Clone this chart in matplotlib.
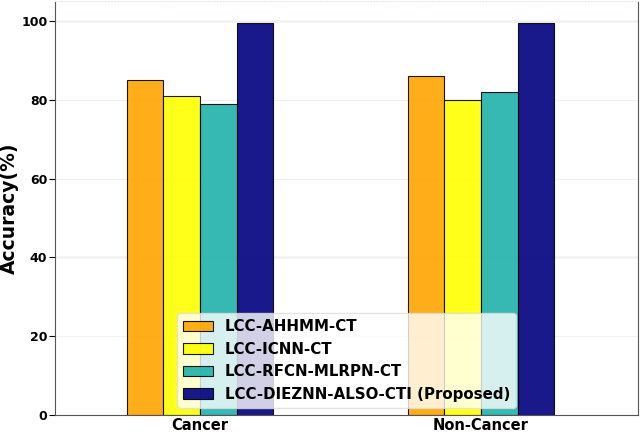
import matplotlib
matplotlib.use("Agg")
import matplotlib.pyplot as plt
import numpy as np

groups = ['Cancer', 'Non-Cancer']
methods = ['LCC-AHHMM-CT', 'LCC-ICNN-CT', 'LCC-RFCN-MLRPN-CT',
           'LCC-DIEZNN-ALSO-CTI (Proposed)']
ahhmm = [85.0, 86.0]
icnn = [81.0, 80.0]
rfcn = [79.0, 82.0]
dieznn = [99.4, 99.6]
colors = ['orange', 'yellow', 'lightseagreen', 'navy']

plt.rcParams['font.weight'] = 'bold'
fig = plt.figure(figsize=(6.4, 4.32), dpi=100)
ax = fig.add_axes([0.086, 0.039, 0.911, 0.958])

x = np.arange(len(groups))
w = 0.13
series = [ahhmm, icnn, rfcn, dieznn]
for i, (vals, c, lab) in enumerate(zip(series, colors, methods)):
    ax.bar(x + (i - 1.5) * w, vals, w, color=c, alpha=0.9,
           edgecolor='black', linewidth=0.8, label=lab, zorder=2)

ax.set_xlim(-0.516, 1.559)
ax.set_ylim(0, 105)
ax.set_xticks(x)
ax.set_xticklabels(groups, fontsize=10.5, fontweight='bold')
ax.tick_params(axis='x', length=0, pad=2)
ax.set_yticks([0, 20, 40, 60, 80, 100])
ax.tick_params(axis='y', labelsize=9, length=4, pad=1.5)
ax.set_ylabel('Accuracy(%)', fontsize=13.5, fontweight='bold')
ax.yaxis.set_label_coords(-0.062, 0.5)

ax.grid(axis='y', color='#f0f0f0', linewidth=0.8, zorder=0)
for yv in [40, 100]:
    ax.axhline(yv, color='#bbbbbb', linewidth=0.9, zorder=1)

ax.spines['top'].set_color('#e4ece8')
ax.spines['top'].set_linestyle(':')
for s in ['left', 'bottom', 'right']:
    ax.spines[s].set_color('#555555')

leg = ax.legend(loc='lower center', fontsize=10.8, framealpha=0.8,
                bbox_to_anchor=(0.5, 0.0))
leg.get_frame().set_edgecolor('#dddddd')

fig.savefig('out.png', dpi=100)
